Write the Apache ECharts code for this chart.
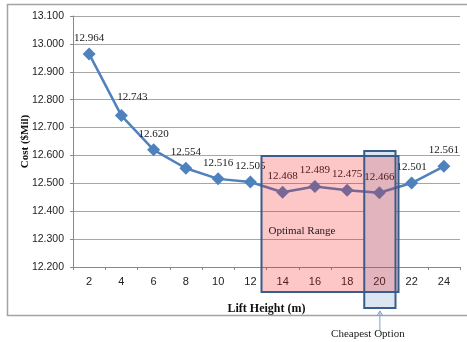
<!DOCTYPE html>
<html>
<head>
<meta charset="utf-8">
<script src="https://cdn.jsdelivr.net/npm/echarts@6/dist/echarts.min.js"></script>
<style>
  html, body { margin: 0; padding: 0; background: #fff; }
  #chart { width: 467px; height: 342px; }
</style>
</head>
<body>
<div id="chart"></div>
<script>
// Lift height options (m) and the total cost of each ($Mil)
const liftHeights = ['2', '4', '6', '8', '10', '12', '14', '16', '18', '20', '22', '24'];
const costs = [12.964, 12.743, 12.620, 12.554, 12.516, 12.505, 12.468, 12.489, 12.475, 12.466, 12.501, 12.561];
const yTicks = { min: 12.2, max: 13.1, step: 0.1 };

const serif = '"Liberation Serif", "DejaVu Serif", serif';
const sans = '"Liberation Sans", Arial, sans-serif';
const lineBlue = '#4f81bd';
const frameBlue = '#385d8a';

const chart = echarts.init(document.getElementById('chart'), null, { renderer: 'canvas' });

const option = {
  animation: false,
  backgroundColor: '#fff',
  grid: { left: 73, right: 7, top: 16, bottom: 75 },
  xAxis: {
    type: 'category',
    data: liftHeights,
    boundaryGap: true,
    name: 'Lift Height (m)',
    nameLocation: 'middle',
    nameGap: 36,
    nameTextStyle: { fontFamily: serif, fontWeight: 'bold', fontSize: 12, color: '#111' },
    axisLine: { lineStyle: { color: '#888', width: 1 } },
    axisTick: { show: true, length: 3, lineStyle: { color: '#888' } },
    axisLabel: { fontFamily: sans, fontSize: 11, color: '#222', margin: 9 },
    splitLine: { show: false }
  },
  yAxis: {
    type: 'value',
    min: yTicks.min,
    max: yTicks.max,
    interval: yTicks.step,
    name: 'Cost ($Mil)',
    nameLocation: 'middle',
    nameGap: 42,
    nameMoveOverlap: false,
    nameRotate: 90,
    nameTextStyle: { fontFamily: serif, fontWeight: 'bold', fontSize: 11, color: '#111' },
    axisLine: { show: true, lineStyle: { color: '#888', width: 1 } },
    axisTick: { show: true, length: 3, lineStyle: { color: '#888' } },
    axisLabel: {
      fontFamily: sans, fontSize: 10.5, color: '#222', margin: 9,
      formatter: v => v.toFixed(3)
    },
    splitLine: { lineStyle: { color: '#a6a6a6', width: 1 } }
  },
  series: [{
    type: 'line',
    data: costs.map((v, i) => {
      const item = { value: v };
      if (i === 1) item.label = { offset: [11, -2] };
      return item;
    }),
    symbol: 'diamond',
    symbolSize: 13,
    lineStyle: { color: lineBlue, width: 2.5 },
    itemStyle: { color: lineBlue },
    label: {
      show: true,
      position: 'top',
      distance: 4,
      fontFamily: serif,
      fontSize: 11,
      color: '#1a1a1a',
      formatter: p => p.value.toFixed(3)
    },
    z: 2
  }]
};

chart.setOption(option);

// Annotation boxes placed against the axes' own scales
function xPx(cat) { return chart.convertToPixel({ xAxisIndex: 0 }, cat); }
function yPx(val) { return chart.convertToPixel({ yAxisIndex: 0 }, val); }
function edgeBetween(a, b) { return (xPx(a) + xPx(b)) / 2; }

const redL = edgeBetween('12', '14') - 5;
const redR = edgeBetween('20', '22') + 3;
const redT = yPx(12.598);
const redB = yPx(yTicks.min) + 25;

const blueL = edgeBetween('18', '20') + 1;
const blueR = edgeBetween('20', '22');
const blueT = yPx(12.616);
const blueB = yPx(yTicks.min) + 41;

const arrowX = (blueL + blueR) / 2;

chart.setOption({
  graphic: [
    // outer frame
    { type: 'polyline', shape: { points: [[467, 4.5], [7.5, 4.5], [7.5, 315.5], [467, 315.5]] },
      style: { stroke: '#a3a3a3', lineWidth: 1.5, fill: null }, z: 1 },
    // cheapest option column
    { type: 'rect', shape: { x: blueL, y: blueT, width: blueR - blueL, height: blueB - blueT },
      style: { fill: '#dce6f2', stroke: null }, z: 0 },
    // optimal range fill over the series
    { type: 'rect', shape: { x: redL, y: redT, width: redR - redL, height: redB - redT },
      style: { fill: 'rgba(245,20,20,0.24)', stroke: null }, z: 10 },
    // box outlines
    { type: 'rect', shape: { x: redL, y: redT, width: redR - redL, height: redB - redT },
      style: { fill: null, stroke: frameBlue, lineWidth: 2 }, z: 11 },
    { type: 'rect', shape: { x: blueL, y: blueT, width: blueR - blueL, height: blueB - blueT },
      style: { fill: null, stroke: frameBlue, lineWidth: 2 }, z: 11 },
    { type: 'text', left: redL + 7, top: 226,
      style: { text: 'Optimal Range', font: '11px ' + serif, fill: '#1a1a1a' }, z: 12 },
    // arrow pointing at the cheapest option
    { type: 'line', shape: { x1: arrowX, y1: blueB + 3, x2: arrowX, y2: blueB + 22 },
      style: { stroke: '#7f9fcf', lineWidth: 1 }, z: 12 },
    { type: 'polyline', shape: { points: [[arrowX - 3, blueB + 8], [arrowX, blueB + 3], [arrowX + 3, blueB + 8]] },
      style: { stroke: '#7f9fcf', lineWidth: 1, fill: null }, z: 12 },
    { type: 'text', x: arrowX - 12, y: 334,
      style: { text: 'Cheapest Option', font: '11px ' + serif, fill: '#1a1a1a', textAlign: 'center', textVerticalAlign: 'middle' }, z: 12 }
  ]
});
</script>
</body>
</html>
